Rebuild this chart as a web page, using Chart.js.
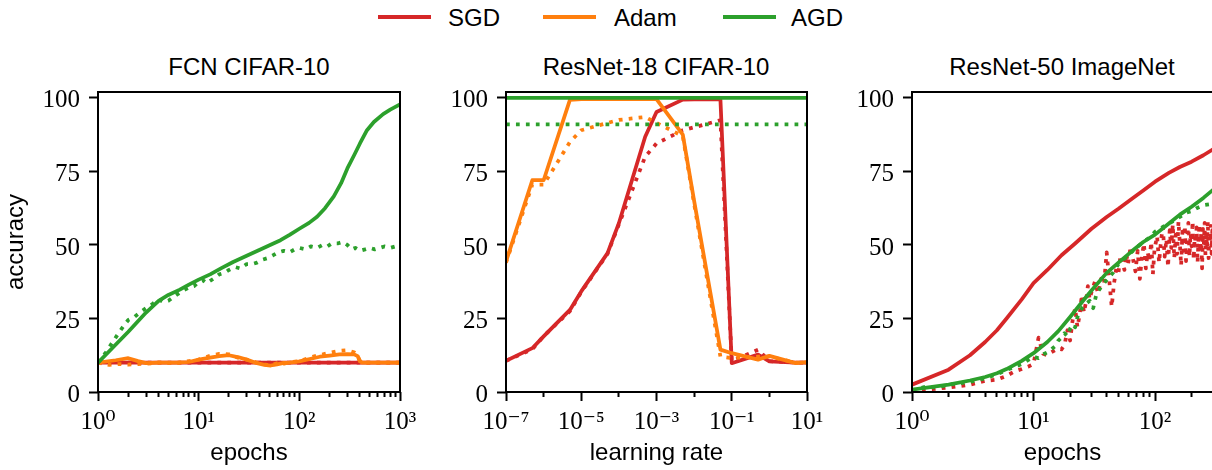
<!DOCTYPE html>
<html><head><meta charset="utf-8">
<script src="https://cdn.jsdelivr.net/npm/chart.js@4.4.0/dist/chart.umd.min.js"></script>
<style>
html,body{margin:0;padding:0;width:1212px;height:470px;overflow:hidden;background:#fff;position:relative;}
canvas{position:absolute;top:0;}
.t{position:absolute;font-family:"Liberation Sans",sans-serif;font-size:24px;line-height:24px;white-space:nowrap;color:#000;}
.ttl{width:400px;text-align:center;top:55px;}
.sw{position:absolute;height:4px;top:15px;width:53px;}
</style></head><body>
<div class="sw" style="left:378px;background:#d62728"></div><div class="t" style="left:448px;top:6px">SGD</div>
<div class="sw" style="left:543px;background:#ff7f0e"></div><div class="t" style="left:614px;top:6px">Adam</div>
<div class="sw" style="left:723px;background:#2ca02c"></div><div class="t" style="left:791px;top:6px">AGD</div>
<div class="t ttl" style="left:49px">FCN CIFAR-10</div>
<div class="t ttl" style="left:456px">ResNet-18 CIFAR-10</div>
<div class="t ttl" style="left:862px">ResNet-50 ImageNet</div>
<canvas id="c1" width="431" height="470" style="left:-1px"></canvas>
<canvas id="c2" width="407" height="470" style="left:430px"></canvas>
<canvas id="c3" width="407" height="470" style="left:836px"></canvas>
<script>
// ---------- shared ----------
const yTicks = [0, 25, 50, 75, 100];

// ---------- Panel 1: FCN CIFAR-10 (x = epochs) ----------
const fcnTickMajor = [1, 10, 100, 1000];
const fcnTickLabels = ['10\u2070', '10\u00b9', '10\u00b2', '10\u00b3'];
const fcnSgdX = [1, 2, 5, 10, 20, 50, 100, 200, 400, 1000];
const fcnSgdTrain = [10, 10, 10, 10, 10, 10, 10, 10, 10, 10];
const fcnSgdTest = [10, 10, 10, 10, 10, 10, 10, 10, 10, 10];
const fcnAdamTrainX = [1, 1.5, 2, 2.5, 3, 4, 6, 8, 10, 13, 16, 20, 25, 30, 38, 45, 52, 60, 70, 80, 100, 130, 160, 200, 250, 300, 350, 380, 400, 420, 500, 700, 1000];
const fcnAdamTrain = [10, 10.8, 11.5, 10.5, 9.8, 10, 10, 10.2, 11, 11.7, 12.2, 12.5, 11.8, 11, 9.8, 9.2, 9, 9.4, 9.9, 10, 10.4, 11.3, 12, 12.4, 12.8, 12.9, 12.8, 12.2, 10.5, 10, 10, 10, 10];
const fcnAdamTestX = [1, 1.3, 1.6, 2, 2.5, 3, 4, 6, 8, 10, 13, 16, 20, 25, 30, 38, 45, 52, 60, 70, 80, 100, 130, 160, 200, 250, 300, 350, 380, 400, 420, 500, 700, 1000];
const fcnAdamTest = [10, 9.2, 9.5, 9.3, 9.5, 9.6, 10, 9.8, 10.5, 11, 12.3, 13, 12.8, 11.6, 11, 10, 9.4, 9, 9.8, 9.6, 10.1, 10.5, 11.8, 12.6, 13.3, 14, 14.2, 13.5, 12, 10.5, 10, 10, 10, 10];
const fcnAgdTrainX = [1, 2, 3, 4, 5, 6.5, 8, 10, 13, 17, 22, 30, 40, 50, 65, 80, 100, 125, 150, 180, 220, 260, 300, 350, 400, 470, 550, 680, 800, 1000];
const fcnAgdTrain = [10, 20.5, 27, 31, 33, 34.8, 36.5, 38.2, 40, 42.2, 44.2, 46.3, 48.3, 49.8, 51.6, 53.4, 55.5, 57.5, 59.6, 62.5, 66.5, 71, 76, 80.5, 84.5, 89, 91.8, 94.5, 96, 97.8];
const fcnAgdTestX = [1, 1.2, 1.4, 1.6, 1.8, 2, 2.3, 2.6, 3, 3.5, 4, 4.5, 5, 6, 7, 8, 9, 10, 11, 12, 14, 16, 18, 20, 23, 26, 30, 34, 38, 43, 48, 55, 62, 70, 80, 90, 100, 115, 130, 150, 170, 190, 210, 240, 270, 300, 330, 360, 400, 450, 500, 560, 630, 700, 800, 900, 1000];
const fcnAgdTest = [10, 13.5, 17, 20, 22.5, 24.5, 25.5, 27, 28.5, 30, 31.5, 30.5, 31, 33, 34.5, 35.5, 36, 37.5, 38, 37, 38.5, 40, 40.5, 41.5, 42.5, 42, 43.5, 43.5, 44, 45, 45.5, 46.5, 47.5, 48, 47.5, 48.5, 49, 48.5, 49.5, 49, 50, 49.5, 50.5, 50.5, 51, 50, 48.5, 49, 48, 48.5, 49, 48.5, 49, 49.5, 49, 49.5, 50];

// ---------- Panel 2: ResNet-18 CIFAR-10 (x = learning rate) ----------
const lrTickMajor = [1e-7, 1e-5, 1e-3, 1e-1, 1e1];
const lrTickMinor = [1e-6, 1e-4, 1e-2, 1];
const lrTickLabels = ['10\u207b\u2077', '10\u207b\u2075', '10\u207b\u00b3', '10\u207b\u00b9', '10\u00b9'];
const lrGrid = [1e-7, 5e-7, 1e-6, 5e-6, 1e-5, 5e-5, 1e-4, 5e-4, 1e-3, 5e-3, 1e-2, 5e-2, 1e-1, 5e-1, 1, 5, 10];
const r18SgdTrain = [10.6, 14.9, 18.9, 27.9, 34.2, 47.2, 57.4, 86.8, 95.2, 99.4, 99.5, 99.5, 9.8, 12.7, 10.4, 10, 10];
const r18SgdTest = [10.6, 14.5, 19, 27.5, 34, 47, 57, 80, 84.5, 89, 90, 92.4, 10.5, 14.4, 10.5, 10, 10];
const r18AdamTrain = [44.3, 72, 72, 99.3, 99.6, 99.6, 99.6, 99.6, 99.6, 87.5, 65, 14.4, 13.2, 11, 12.3, 9.8, 10.2];
const r18AdamTest = [44, 70.5, 70.5, 85, 89, 91.5, 92.5, 93.5, 91.5, 87, 64, 12, 11.5, 12, 12, 10, 10];
const r18AgdTrain = [100, 100, 100, 100, 100, 100, 100, 100, 100, 100, 100, 100, 100, 100, 100, 100, 100];
const r18AgdTest = [91, 91, 91, 91, 91, 91, 91, 91, 91, 91, 91, 91, 91, 91, 91, 91, 91];

// ---------- Panel 3: ResNet-50 ImageNet (x = epochs) ----------
const inTickMajor = [1, 10, 100];
const inTickLabels = ['10\u2070', '10\u00b9', '10\u00b2'];
const inSgdTrainX = [1, 2, 3, 4, 5, 6, 8, 10, 13, 17, 22, 30, 40, 50, 65, 80, 100, 130, 160, 200, 250, 300];
const inSgdTrain = [2.5, 7.6, 12.5, 17, 21, 25, 31.5, 37, 41.5, 46.5, 50.5, 55.5, 59.5, 62.3, 65.8, 68.5, 71.5, 74.5, 76.5, 78.3, 80.5, 82.5];
const inSgdTestX = [1, 2, 3, 4, 5, 6, 7, 8, 9, 10, 11, 12, 13, 14, 15, 16, 17, 18, 19, 20, 21, 22, 23, 24, 25, 26, 27, 28, 29, 30,
  32, 34, 36, 38, 40, 42, 44, 46, 48, 50, 52, 54, 56, 58, 60,
  63, 66, 69, 72, 75, 78, 81, 84, 87, 90, 93, 96, 99,
  104, 108, 112, 116, 120, 124, 128, 132, 136, 140, 144, 148, 152, 156, 160, 164, 168, 172, 176, 180, 184, 188, 192, 196, 200,
  204, 208, 212, 216, 220, 224, 228, 232, 236, 240, 244, 248, 252, 256, 260, 264, 268, 272, 276, 280, 284, 288, 292, 296, 300];
const inSgdTest = [0.3, 1.5, 2.5, 3.8, 4.2, 5.5, 7, 7.8, 8.6, 9.5, 18.5, 13, 12.5, 13.5, 14.2, 14.8, 14.5, 16, 21, 17.5, 24.5, 28.5, 22, 26.5, 33, 27, 30.5, 36, 31.5, 34,
  37.5, 33.5, 38.5, 36.5, 47.5, 38, 29, 37, 42, 40.5, 46.5, 44, 41.5, 47, 43.5,
  49.5, 45, 41, 48, 38.5, 46, 50.5, 42, 47.5, 44.5, 51, 40, 48.5,
  53, 44, 51.5, 56, 46, 52, 42.5, 55, 49, 57, 45.5, 53.5, 47, 58, 50.5, 43, 54.5, 48, 56.5, 44.5, 52.5, 57.5, 46, 54, 49.5,
  58, 45, 53, 50.5, 56, 44, 52, 57, 47.5, 54.5, 42, 55.5, 50, 57.5, 46.5, 53.5, 49, 58, 45.5, 54, 51, 56.5, 47, 55, 52];
const inAgdTrainX = [1, 2, 3, 4, 5, 6, 8, 10, 13, 16, 20, 25, 30, 40, 50, 65, 80, 100, 130, 160, 200, 250, 300];
const inAgdTrain = [0.8, 2.5, 3.9, 5.1, 6.4, 7.8, 10.6, 13.2, 17, 20.7, 25.5, 30.5, 34.5, 40.5, 44, 48, 51, 53.5, 57.3, 60.3, 63, 66, 68.7];
const inAgdTestX = [1, 1.3, 1.6, 2, 2.5, 3, 4, 5, 6, 7, 8, 10, 11, 12, 13, 14, 15, 16, 17, 18, 19, 20, 21, 22, 23, 24, 25, 27, 29, 31, 33, 35, 38, 41, 45, 50, 55, 60, 70, 80, 90, 100, 110, 120, 140, 160, 180, 200, 220, 250, 280, 300];
const inAgdTest = [0.5, 1.8, 1.5, 2.5, 3, 3.5, 4.6, 6, 7.5, 8.5, 9.5, 12, 11.5, 12.8, 13.5, 14.5, 15.5, 17.5, 18.5, 20, 19, 21.5, 23, 22, 25.5, 27, 28.5, 30, 31, 28.5, 33.5, 35, 37, 38.5, 40.5, 43.5, 45, 46.5, 49, 51, 52.5, 54.5, 55.5, 56.5, 58, 59.5, 61, 61.5, 62.5, 63.5, 63.8, 64.2];

// ---------- styling / helpers ----------
const C_SGD = '#d62728', C_ADAM = '#ff7f0e', C_AGD = '#2ca02c';
const SERIF = '"Liberation Serif", "DejaVu Serif", serif';
const SANS = '"Liberation Sans", sans-serif';
const LW = 3.75, DOT = [3.75, 6.2];

function pts(xs, ys) { return xs.map((x, i) => ({x: x, y: ys[i]})); }
function ds(label, xs, ys, color, dotted, order) {
  return {label, data: pts(xs, ys), borderColor: color, backgroundColor: color, borderWidth: LW,
    borderDash: dotted ? DOT : [], borderCapStyle: dotted ? 'butt' : 'round', borderJoinStyle: 'round',
    pointRadius: 0, pointHoverRadius: 0, tension: 0, fill: false, order};
}
function logTicks(lo, hi, minorMult) {
  const out = [];
  for (let e = Math.round(Math.log10(lo)); Math.pow(10, e) <= hi * 1.0001; e++) {
    const d = Math.pow(10, e);
    out.push(d);
    if (minorMult) minorMult.forEach(m => { if (m * d <= hi * 1.0001) out.push(m * d); });
  }
  return out;
}
const frame = {id: 'frame', afterDatasetsDraw(chart) {
  const {ctx, chartArea: a} = chart;
  ctx.save(); ctx.strokeStyle = '#000'; ctx.lineWidth = 2;
  ctx.strokeRect(a.left, a.top, a.right - a.left, a.bottom - a.top); ctx.restore();
}};

function makeChart(id, cfg) {
  return new Chart(document.getElementById(id), {
    type: 'line',
    data: {datasets: cfg.datasets},
    options: {
      responsive: false, animation: false, devicePixelRatio: 1, events: [],
      layout: {padding: {left: 0, right: 30, top: 92, bottom: 0}},
      plugins: {legend: {display: false}, tooltip: {enabled: false}, title: {display: false}},
      scales: {
        x: {type: 'logarithmic', min: cfg.xmin, max: cfg.xmax,
          afterBuildTicks(s) { s.ticks = cfg.xticks.map(v => ({value: v, major: cfg.xmajor.includes(v)})); },
          afterFit(s) { s.height = 78; },
          grid: {drawOnChartArea: false, drawTicks: true, tickLength: 9, tickWidth: 2, tickColor: '#000',
            tickBorderDash: c => (c.tick && c.tick.major) ? [] : [5, 100]},
          border: {display: false},
          ticks: {autoSkip: false, maxRotation: 0, minRotation: 0, padding: 6, color: '#000',
            font: {family: SERIF, size: 25},
            callback: (v, i, t) => t[i].major ? cfg.xlabels[cfg.xmajor.indexOf(t[i].value)] : ''},
          title: {display: true, text: cfg.xtitle, color: '#000', font: {family: SANS, size: 24, lineHeight: 1}, padding: {top: 0, bottom: 5}}
        },
        y: {type: 'linear', min: 0, max: 102,
          afterBuildTicks(s) { s.ticks = yTicks.map(v => ({value: v})); },
          afterFit(s) { s.width = cfg.yw; },
          grid: {drawOnChartArea: false, drawTicks: true, tickLength: 9, tickWidth: 2, tickColor: '#000'},
          border: {display: false},
          ticks: {padding: 9, color: '#000', font: {family: SERIF, size: 25}, labelOffset: 3, callback: v => String(v)},
          title: cfg.ytitle ? {display: true, text: cfg.ytitle, color: '#000', font: {family: SANS, size: 24, lineHeight: 1}, padding: {top: 5, bottom: 0}} : {display: false}
        }
      }
    },
    plugins: [frame]
  });
}

makeChart('c1', {
  xmin: 1, xmax: 1000, xticks: logTicks(1, 1000, [2,3,4,5,6,7,8,9]), xmajor: fcnTickMajor, xlabels: fcnTickLabels,
  xtitle: 'epochs', ytitle: 'accuracy', yw: 99,
  datasets: [
    ds('AGD train', fcnAgdTrainX, fcnAgdTrain, C_AGD, false, 1),
    ds('AGD test', fcnAgdTestX, fcnAgdTest, C_AGD, true, 0),
    ds('Adam train', fcnAdamTrainX, fcnAdamTrain, C_ADAM, false, 3),
    ds('Adam test', fcnAdamTestX, fcnAdamTest, C_ADAM, true, 2),
    ds('SGD train', fcnSgdX, fcnSgdTrain, C_SGD, false, 5),
    ds('SGD test', fcnSgdX, fcnSgdTest, C_SGD, true, 4)
  ]
});
makeChart('c2', {
  xmin: 1e-7, xmax: 1e1, xticks: lrTickMajor.concat(lrTickMinor), xmajor: lrTickMajor, xlabels: lrTickLabels,
  xtitle: 'learning rate', ytitle: null, yw: 76,
  datasets: [
    ds('AGD train', lrGrid, r18AgdTrain, C_AGD, false, 1),
    ds('AGD test', lrGrid, r18AgdTest, C_AGD, true, 0),
    ds('Adam train', lrGrid, r18AdamTrain, C_ADAM, false, 3),
    ds('Adam test', lrGrid, r18AdamTest, C_ADAM, true, 2),
    ds('SGD train', lrGrid, r18SgdTrain, C_SGD, false, 5),
    ds('SGD test', lrGrid, r18SgdTest, C_SGD, true, 4)
  ]
});
makeChart('c3', {
  xmin: 1, xmax: 300, xticks: logTicks(1, 300, [2,3,4,5,6,7,8,9]), xmajor: inTickMajor, xlabels: inTickLabels,
  xtitle: 'epochs', ytitle: null, yw: 76,
  datasets: [
    ds('AGD train', inAgdTrainX, inAgdTrain, C_AGD, false, 1),
    ds('AGD test', inAgdTestX, inAgdTest, C_AGD, true, 0),
    ds('SGD train', inSgdTrainX, inSgdTrain, C_SGD, false, 5),
    ds('SGD test', inSgdTestX, inSgdTest, C_SGD, true, 4)
  ]
});
</script>
</body></html>
